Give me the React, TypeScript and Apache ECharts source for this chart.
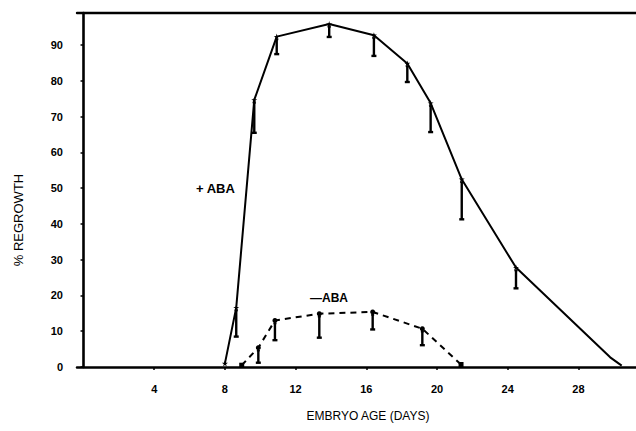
import React, { useEffect, useRef } from "react";
import * as echarts from "echarts";

// + ABA series (solid line, star markers)
const plusX = [8, 8.64, 9.66, 10.93, 13.9, 16.43, 18.32, 19.64, 21.4, 24.47, 29.8, 30.45];
const plusY = [1, 16.6, 74.7, 92.4, 95.9, 92.8, 84.9, 73.8, 52.5, 27.8, 2.7, 0.4];
const plusLow = [null, 8.5, 65.5, 87.5, 92.3, 87, 79.7, 65.7, 41.3, 22, null, null];
const plusMarked = [true, true, true, true, true, true, true, true, true, true, false, false];

// - ABA series (dashed line, dot markers)
const minusX = [8.95, 9.89, 10.83, 13.34, 16.36, 19.17, 21.36];
const minusY = [0.5, 5.4, 13, 14.9, 15.4, 10.7, 0.7];
const minusLow = [null, 1.2, 7.5, 8.2, 10.5, 6.1, null];

const xTicks = [4, 8, 12, 16, 20, 24, 28];
const yTicks = [0, 10, 20, 30, 40, 50, 60, 70, 80, 90];

const STAR =
  "path://M0,-1 L0.22,-0.3 L0.95,-0.3 L0.36,0.12 L0.59,0.81 L0,0.38 L-0.59,0.81 L-0.36,0.12 L-0.95,-0.3 L-0.22,-0.3 Z";

function errorData(xs: number[], ys: number[], lows: (number | null)[]) {
  const out: number[][] = [];
  xs.forEach((x, i) => {
    const l = lows[i];
    if (l !== null && l !== undefined) out.push([x, ys[i], l]);
  });
  return out;
}

export default function App() {
  const ref = useRef<HTMLDivElement>(null);
  useEffect(() => {
    document.body.style.margin = "0";
    if (!ref.current) return;
    const chart = echarts.init(ref.current, undefined, { renderer: "svg" });
    const font = "'Liberation Sans', Arial, sans-serif";
    const renderErr = (params: any, api: any) => {
      const x = api.value(0);
      const top = api.coord([x, api.value(1)]);
      const bot = api.coord([x, api.value(2)]);
      const style = { stroke: "#000", lineWidth: 2.4 };
      return {
        type: "group",
        children: [
          { type: "line", shape: { x1: top[0], y1: top[1] + 2, x2: bot[0], y2: bot[1] }, style },
          { type: "line", shape: { x1: bot[0] - 2.5, y1: bot[1], x2: bot[0] + 2.5, y2: bot[1] }, style },
          { type: "line", shape: { x1: top[0] - 1.5, y1: top[1] + 3, x2: top[0] + 1.5, y2: top[1] + 3 }, style: { stroke: "#000", lineWidth: 1.5 } },
        ],
      };
    };
    chart.setOption({
      animation: false,
      backgroundColor: "#fff",
      grid: { left: 77, top: 13, right: 0, bottom: 64 },
      xAxis: [
        {
          type: "value",
          min: -0.37,
          max: 31.26,
          splitLine: { show: false },
          axisLine: { show: true, onZero: false, lineStyle: { color: "#000", width: 2.5 } },
          axisTick: { show: true, customValues: xTicks, length: 3, lineStyle: { color: "#000", width: 1.5 } },
          axisLabel: {
            customValues: xTicks,
            margin: 16,
            color: "#000",
            fontSize: 11,
            fontWeight: "bold",
            fontFamily: font,
          },
        },
        {
          type: "value",
          position: "top",
          min: -0.37,
          max: 31.26,
          splitLine: { show: false },
          axisLine: { show: true, onZero: false, lineStyle: { color: "#000", width: 2.4 } },
          axisTick: { show: false },
          axisLabel: { show: false },
        },
      ],
      yAxis: {
        type: "value",
        min: 0,
        max: 99,
        splitLine: { show: false },
        axisLine: { show: true, lineStyle: { color: "#000", width: 2.6 } },
        axisTick: { show: true, customValues: yTicks, length: 3, lineStyle: { color: "#000", width: 1.5 } },
        axisLabel: {
          customValues: yTicks,
          margin: 14,
          color: "#000",
          fontSize: 11,
          fontWeight: "bold",
          fontFamily: font,
        },
      },
      graphic: [
        {
          type: "text",
          x: 18,
          y: 220,
          rotation: Math.PI / 2,
          style: {
            text: "% REGROWTH",
            font: `13px ${font}`,
            fill: "#000",
            align: "center",
            verticalAlign: "middle",
          },
        },
        {
          type: "text",
          x: 368,
          y: 416,
          style: {
            text: "EMBRYO AGE (DAYS)",
            font: `12px ${font}`,
            fill: "#000",
            align: "center",
            verticalAlign: "middle",
          },
        },
        {
          type: "text",
          x: 196,
          y: 188,
          style: {
            text: "+ ABA",
            font: `bold 13px ${font}`,
            fill: "#000",
            align: "left",
            verticalAlign: "middle",
          },
        },
        {
          type: "text",
          x: 310,
          y: 298,
          style: {
            text: "\u2014ABA",
            font: `bold 12px ${font}`,
            fill: "#000",
            align: "left",
            verticalAlign: "middle",
          },
        },
      ],
      series: [
        {
          type: "line",
          data: plusX.map((x, i) => ({
            value: [x, plusY[i]],
            symbol: plusMarked[i] ? STAR : "none",
          })),
          symbolSize: 6,
          itemStyle: { color: "#000" },
          lineStyle: { color: "#000", width: 2 },
          z: 3,
        },
        {
          type: "line",
          data: minusX.map((x, i) => ({
            value: [x, minusY[i]],
            symbol: i === 0 || i === minusX.length - 1 ? "rect" : "circle",
          })),
          symbolSize: 5,
          itemStyle: { color: "#000" },
          lineStyle: { color: "#000", width: 2, type: [6, 5] },
          z: 3,
        },
        {
          type: "custom",
          renderItem: renderErr,
          data: errorData(plusX, plusY, plusLow),
          encode: { x: 0, y: [1, 2] },
          z: 4,
        },
        {
          type: "custom",
          renderItem: renderErr,
          data: errorData(minusX, minusY, minusLow),
          encode: { x: 0, y: [1, 2] },
          z: 4,
        },
      ],
    });
    return () => chart.dispose();
  }, []);
  return <div ref={ref} style={{ width: 636, height: 431 }} />;
}
